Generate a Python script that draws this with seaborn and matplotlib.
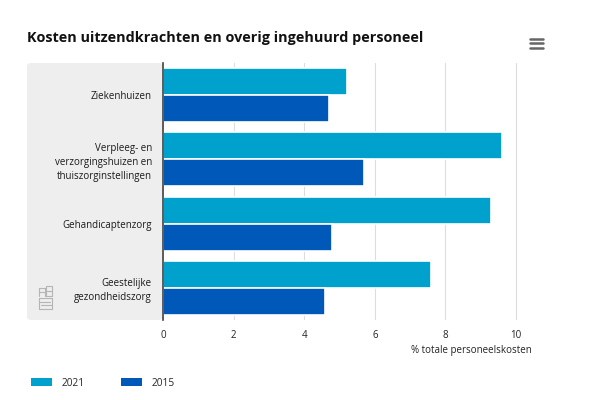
import pandas as pd
import matplotlib.pyplot as plt
import seaborn as sns
from matplotlib.patches import FancyBboxPatch, Patch
from matplotlib.lines import Line2D

sns.set_style("white")
plt.rcParams['font.family'] = ['Open Sans', 'DejaVu Sans']

# data
categories = ["Ziekenhuizen",
              "Verpleeg- en\nverzorgingshuizen en\nthuiszorginstellingen",
              "Gehandicaptenzorg",
              "Geestelijke\ngezondheidszorg"]
years = ["2021", "2015"]
vals_2021 = [5.2, 9.6, 9.3, 7.6]
vals_2015 = [4.7, 5.7, 4.8, 4.6]
colors = ["#00a1cd", "#0058b8"]

df = pd.DataFrame({
    "cat": categories * 2,
    "jaar": [years[0]] * 4 + [years[1]] * 4,
    "waarde": vals_2021 + vals_2015,
})

fig = plt.figure(figsize=(6, 4), dpi=100)
ax = fig.add_axes([163/600, 1 - 320/400, 377/600, 257/400])
ax.set_zorder(2)

# grey panel behind the category labels
panel = FancyBboxPatch((27/600, 80/400), (163-27)/600, 257/400,
                       boxstyle="round,pad=0,rounding_size=0.008",
                       transform=fig.transFigure, facecolor="#eeeeee",
                       edgecolor="none", zorder=-1)
fig.patches.append(panel)

sns.barplot(data=df, y="cat", x="waarde", hue="jaar", palette=colors,
            orient="h", width=0.84, edgecolor="white", linewidth=1.2,
            saturation=1, ax=ax, legend=False, zorder=3)

ax.set_xlim(0, 10.68)
ax.set_xticks([0, 2, 4, 6, 8, 10])
ax.set_xticklabels(["0", "2", "4", "6", "8", "10"], fontsize=7, color="#222222")
ax.xaxis.grid(True, color="#dddddd", linewidth=0.8)
ax.set_axisbelow(True)
ax.tick_params(axis="x", length=0, pad=7)
ax.tick_params(axis="y", length=0, pad=8)
for lbl in ax.get_yticklabels():
    lbl.set_fontsize(7)
    lbl.set_color("#1a1a1a")
    lbl.set_multialignment("right")
    lbl.set_linespacing(1.35)
ax.set_ylabel("")
ax.set_xlabel("")
ax.patch.set_alpha(0)
for s in ["top", "right", "bottom"]:
    ax.spines[s].set_visible(False)
ax.spines["left"].set_color("#444444")
ax.spines["left"].set_linewidth(1.2)
ax.spines["left"].set_zorder(5)

fig.text(532/600, 1 - 350/400, "% totale personeelskosten", ha="right",
         va="center", fontsize=7, color="#222222")

fig.text(27/600, 1 - 38/400, "Kosten uitzendkrachten en overig ingehuurd personeel",
         ha="left", va="center", fontsize=10.4, fontweight="bold", color="#111111")

# menu icon
for yy in [38.5, 43, 47.5]:
    fig.add_artist(Line2D([530/600, 543/600], [1 - yy/400, 1 - yy/400],
                          transform=fig.transFigure, color="#666666", linewidth=1.8))

# rough cbs logo in the grey panel
logo_segments = [
    # c block
    ([39, 45, 45], [288, 288, 296]), ([39, 39], [288, 296]), ([39, 45], [292, 292]),
    # b block
    ([46, 52, 52, 46, 46], [286, 286, 296, 296, 286]), ([46, 52], [291, 291]),
    # s block
    ([39, 52, 52, 39, 39], [298, 298, 309, 309, 298]),
    ([39, 50], [301.5, 301.5]), ([41, 52], [305, 305]),
]
for xs, ys in logo_segments:
    fig.add_artist(Line2D([x / 600 for x in xs], [1 - y / 400 for y in ys],
                          transform=fig.transFigure, color="#b5b5b5", linewidth=0.8))

handles = [Patch(facecolor=c, edgecolor="none") for c in colors]
fig.legend(handles, years, loc="center left", bbox_to_anchor=(22/600, 1 - 383/400),
           ncol=2, frameon=False, fontsize=7.3, handlelength=2.1, handleheight=0.8,
           columnspacing=3.6, handletextpad=0.9)

plt.savefig("out.png", dpi=100)
